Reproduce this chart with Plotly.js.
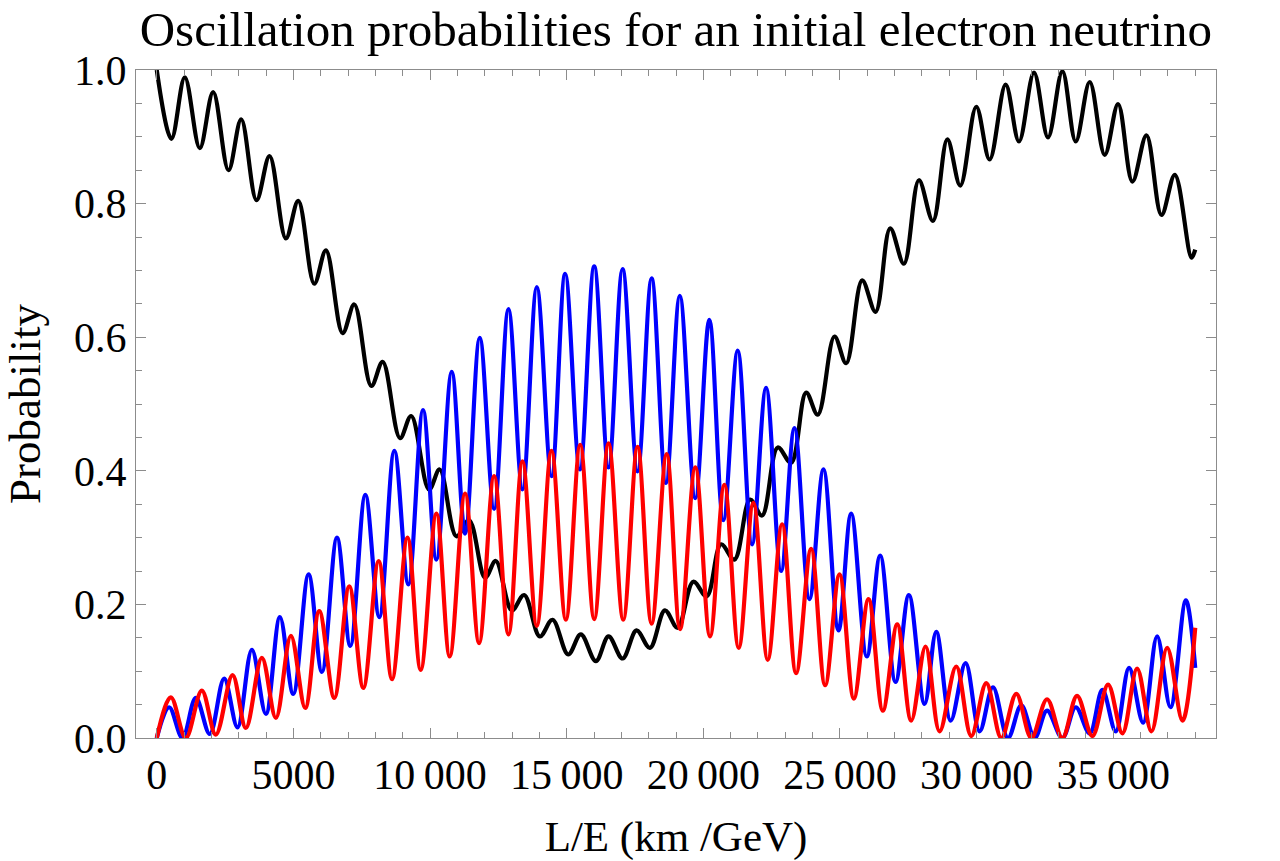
<!DOCTYPE html>
<html>
<head>
<meta charset="utf-8">
<script src="https://cdn.plot.ly/plotly-3.0.1.min.js"></script>
<style>
  html, body { margin: 0; padding: 0; background: #fff; }
  #chart { width: 1280px; height: 861px; }
</style>
</head>
<body>
<div id="chart"></div>
<script>
/* ── readings (peaks and troughs) ── */

const xTickVals = [0, 5000, 10000, 15000, 20000, 25000, 30000, 35000];
const xTickText = ['0', '5000', '10\u2009000', '15\u2009000', '20\u2009000', '25\u2009000', '30\u2009000', '35\u2009000'];

// P(νe → νe), black
const eeX = [0, 537, 1026, 1575, 2063, 2625, 3089, 3651, 4127, 4725, 5177, 5763, 6190, 6801, 7228, 7851, 8266, 8901, 9310,
  9963, 10354, 10964, 11428, 12014, 12405, 12991, 13443, 14017, 14481, 15055, 15518, 16068, 16532, 17045, 17558, 18046, 18595,
  19060, 19634, 20122, 20648, 21136, 21710, 22149, 22723, 23212, 23761, 24188, 24799, 25226, 25812, 26301, 26838, 27339, 27888,
  28401, 28930, 29402, 29988, 30477, 31063, 31551, 32100, 32613, 33138, 33627, 34140, 34689, 35177, 35702, 36215, 36765, 37253,
  37863, 38000];
const eeY = [1.000, 0.897, 0.989, 0.883, 0.967, 0.850, 0.926, 0.805, 0.871, 0.748, 0.804, 0.680, 0.730, 0.606, 0.649, 0.527, 0.563, 0.449, 0.482,
  0.372, 0.402, 0.302, 0.326, 0.240, 0.265, 0.191, 0.214, 0.152, 0.177, 0.125, 0.155, 0.115, 0.152, 0.119, 0.161, 0.135, 0.191,
  0.165, 0.234, 0.212, 0.290, 0.267, 0.357, 0.333, 0.435, 0.412, 0.517, 0.484, 0.601, 0.561, 0.685, 0.638, 0.763, 0.710, 0.835,
  0.774, 0.896, 0.827, 0.945, 0.866, 0.978, 0.893, 0.996, 0.899, 0.998, 0.893, 0.982, 0.873, 0.949, 0.833, 0.902, 0.783, 0.843,
  0.719, 0.731];

// P(νe → νμ), blue
const emX = [0, 452, 940, 1429, 1941, 2466, 2955, 3480, 3993, 4506, 4994, 5556, 6043, 6595, 7082, 7632, 8144, 8694, 9206,
  9743, 10231, 10793, 11282, 11819, 12344, 12869, 13382, 13907, 14444, 14945, 15482, 16007, 16532, 17045, 17594, 18107, 18632,
  19139, 19707, 20220, 20733, 21258, 21783, 22296, 22846, 23334, 23883, 24396, 24946, 25410, 25983, 26472, 27033, 27522, 28096,
  28523, 29050, 29597, 30110, 30599, 31148, 31636, 32125, 32577, 33138, 33627, 34140, 34603, 35092, 35580, 36093, 36606, 37094,
  37656, 38000];
const emY = [0.000, 0.046, 0.000, 0.060, 0.006, 0.089, 0.016, 0.132, 0.036, 0.181, 0.066, 0.245, 0.099, 0.300, 0.138, 0.364, 0.181, 0.430, 0.230,
  0.491, 0.267, 0.548, 0.306, 0.599, 0.343, 0.642, 0.372, 0.675, 0.392, 0.695, 0.402, 0.706, 0.405, 0.702, 0.399, 0.688, 0.382,
  0.662, 0.359, 0.626, 0.326, 0.580, 0.290, 0.524, 0.250, 0.464, 0.208, 0.402, 0.161, 0.336, 0.122, 0.273, 0.084, 0.214, 0.051,
  0.159, 0.026, 0.112, 0.010, 0.076, 0.000, 0.049, 0.000, 0.041, 0.000, 0.046, 0.007, 0.072, 0.010, 0.105, 0.023, 0.152, 0.046,
  0.206, 0.105];

// P(νe → ντ), red
const etX = [0, 513, 1062, 1648, 2161, 2772, 3260, 3846, 4359, 4908, 5433, 5946, 6496, 7045, 7558, 8120, 8608, 9175, 9658,
  10232, 10720, 11282, 11794, 12344, 12869, 13382, 13907, 14444, 14969, 15494, 16007, 16532, 17069, 17594, 18107, 18657,
  19150, 19707, 20245, 20770, 21295, 21832, 22357, 22882, 23395, 23944, 24457, 24983, 25508, 26045, 26570, 27095, 27607,
  28133, 28645, 29255, 29805, 30355, 30904, 31453, 32003, 32577, 33138, 33676, 34237, 34811, 35336, 35873, 36398, 36972,
  37534, 38000];
const etY = [0.000, 0.061, 0.000, 0.071, 0.005, 0.094, 0.015, 0.120, 0.030, 0.153, 0.045, 0.190, 0.060, 0.227, 0.075, 0.265, 0.088, 0.300, 0.102,
  0.336, 0.122, 0.366, 0.142, 0.392, 0.155, 0.414, 0.168, 0.430, 0.177, 0.439, 0.178, 0.441, 0.177, 0.436, 0.171, 0.425,
  0.163, 0.405, 0.152, 0.379, 0.135, 0.352, 0.117, 0.320, 0.097, 0.283, 0.079, 0.245, 0.059, 0.208, 0.041, 0.170, 0.026,
  0.137, 0.010, 0.107, 0.003, 0.082, 0.000, 0.066, 0.000, 0.058, 0.000, 0.063, 0.003, 0.080, 0.007, 0.104, 0.010, 0.135,
  0.026, 0.165];

const SERIF = '"Liberation Serif", "Times New Roman", serif';
const FRAME = '#8c8c8c';

function curve(x, y, color) {
  return {
    x: x, y: y,
    mode: 'lines',
    line: { color: color, width: 4.2, shape: 'spline', smoothing: 1 },
    hoverinfo: 'skip',
  };
}

const traces = [
  curve(eeX, eeY, '#000000'),
  curve(emX, emY, '#0000ff'),
  curve(etX, etY, '#ff0000'),
];

const layout = {
  width: 1280,
  height: 861,
  paper_bgcolor: '#ffffff',
  plot_bgcolor: '#ffffff',
  margin: { l: 136, r: 64, t: 70, b: 123 },
  showlegend: false,
  font: { family: SERIF, color: '#000', size: 42 },
  title: {
    text: 'Oscillation probabilities for an initial electron neutrino',
    font: { family: SERIF, size: 49, color: '#000' },
    x: 0.528, xanchor: 'center',
    y: 0.966, yref: 'container', yanchor: 'middle',
  },
  xaxis: {
    range: [-760, 38760],
    tickmode: 'array',
    tickvals: xTickVals,
    ticktext: xTickText,
    ticks: 'inside', ticklen: 10, tickwidth: 1, tickcolor: FRAME,
    minor: { tickmode: 'linear', tick0: 0, dtick: 1000, ticks: 'inside', ticklen: 6, tickcolor: FRAME },
    showline: true, linecolor: FRAME, linewidth: 1, mirror: 'ticks',
    showgrid: false, zeroline: false,
    tickfont: { family: SERIF, size: 42, color: '#000' },
    ticklabelstandoff: 0,
    title: { text: 'L/E (km /GeV)', font: { family: SERIF, size: 43, color: '#000' }, standoff: 26 },
  },
  yaxis: {
    range: [0, 1],
    tickmode: 'linear', tick0: 0, dtick: 0.2,
    tickformat: '.1f',
    ticks: 'inside', ticklen: 10, tickwidth: 1, tickcolor: FRAME,
    minor: { tickmode: 'linear', tick0: 0, dtick: 0.05, ticks: 'inside', ticklen: 6, tickcolor: FRAME },
    showline: true, linecolor: FRAME, linewidth: 1, mirror: 'ticks',
    showgrid: false, zeroline: false,
    tickfont: { family: SERIF, size: 42, color: '#000' },
    ticklabelstandoff: 0,
    title: { text: 'Probability', font: { family: SERIF, size: 45, color: '#000' }, standoff: 20 },
  },
};

Plotly.newPlot('chart', traces, layout, { staticPlot: true, displayModeBar: false });
</script>
</body>
</html>
